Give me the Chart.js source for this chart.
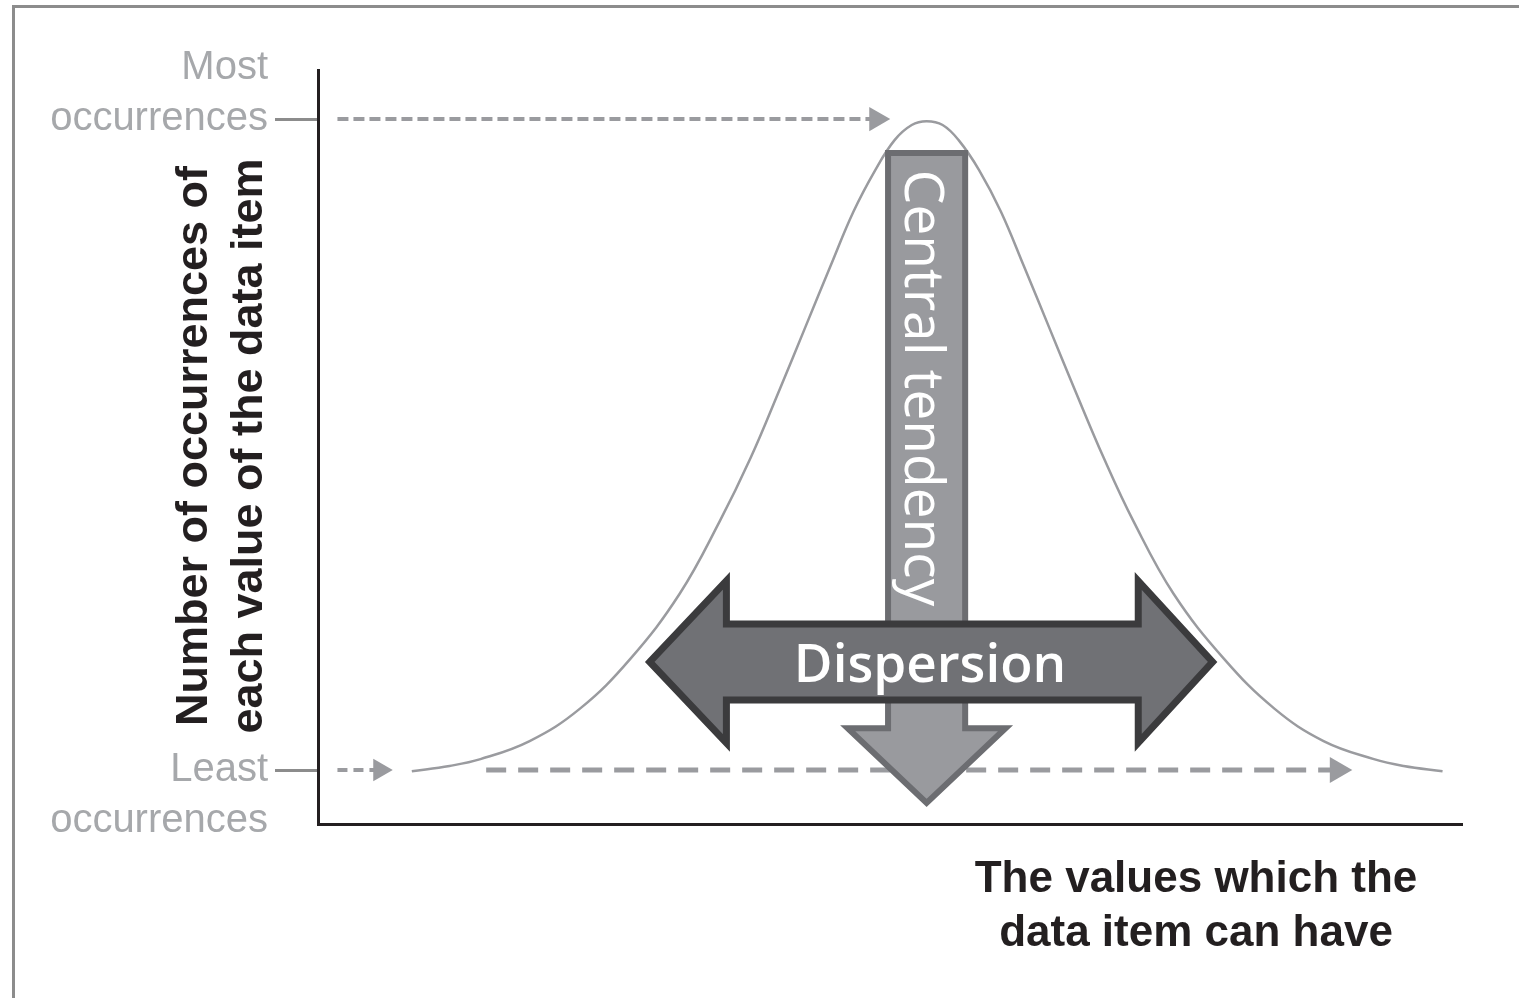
<!DOCTYPE html>
<html lang="en">
<head>
<meta charset="UTF-8">
<title>Central tendency and dispersion</title>
<script src="https://cdn.jsdelivr.net/npm/chart.js"></script>
<style>
  html, body { margin: 0; padding: 0; background: #fff; overflow: hidden; }
  #wrap { position: relative; width: 1519px; height: 998px; }
  #frame { position: absolute; left: 12px; top: 5px; width: 1600px; height: 1100px; border: 3px solid #8c8c8c; pointer-events: none; }
  .txt { position: absolute; white-space: nowrap; text-align: center; pointer-events: none; }
  #ytitle { left: -101px; top: 391px; width: 640px; height: 110px; font: bold 45px/55px 'Liberation Sans', Arial, sans-serif; color: #231f20; transform: rotate(-90deg); }
  #xtitle { left: 946px; top: 850px; width: 500px; font: bold 44px/54px 'Liberation Sans', Arial, sans-serif; color: #231f20; }
  #disp { left: 730px; top: 635px; width: 400px; font: 600 53px/53px 'Open Sans', sans-serif; color: #fff; }
  #central { left: 676px; top: 360px; width: 500px; height: 56px; font: 500 55px/56px 'Open Sans', sans-serif; color: #fff; transform: rotate(90deg); }
</style>
</head>
<body>
<div id="wrap">
  <canvas id="chart" width="1519" height="998"></canvas>
  <div id="frame"></div>
  <div class="txt" id="ytitle">Number of occurrences of<br>each value of the data item</div>
  <div class="txt" id="xtitle">The values which the<br>data item can have</div>
  <div class="txt" id="central">Central tendency</div>
  <div class="txt" id="disp">Dispersion</div>
</div>
<script>
// bell curve (x: value of the data item, y: occurrences)
const curveX = [8.2, 11.5, 14.2, 18.5, 22.9, 27.3, 31.6, 35.1, 37.8, 40.4, 42.6, 44.8, 46.8, 48.7, 50.4, 51.9, 53.2,
                54.6, 56.0, 57.8, 59.7, 61.7, 63.9, 66.1, 68.7, 71.3, 74.8, 79.2, 83.6, 87.9, 92.3, 94.9, 98.3];
const curveY = [7.0, 7.7, 8.6, 11.0, 15.3, 21.9, 30.5, 40.1, 48.5, 57.8, 65.9, 74.0, 81.2, 86.7, 90.7, 92.7, 93.2,
                92.7, 90.7, 86.7, 81.2, 74.0, 65.9, 57.8, 48.5, 40.1, 30.5, 21.9, 15.3, 11.0, 8.6, 7.7, 7.0];

// y axis ticks
const yTickValues = [7.16, 93.5];
const yTickLabels = ['Least occurrences', 'Most occurrences'];

// dashed pointer arrows (start, end of the line)
const mostArrowX = [1.7, 48.8];
const leastShortArrowX = [1.7, 5.4];
const leastLongArrowX = [14.7, 89.1];

// the two big arrows, in axis units
const centralArrow = { x: 53.2, shaftHalf: 3.37, headHalf: 6.9, top: 89.0, headTop: 12.7, tip: 2.8 };
const dispersionArrow = { y: 21.5, shaftHalf: 5.04, headHalf: 10.74, left: 29.0, leftBack: 35.7, rightBack: 71.7, right: 78.2 };

const grey = '#9a9b9f';

const pts = (xs, ys) => xs.map((v, i) => ({ x: v, y: Array.isArray(ys) ? ys[i] : ys }));

function dashedArrow(xs, yv, width, dash, head) {
    return {
        data: pts(xs, yv),
        borderColor: grey,
        borderWidth: width,
        borderDash: dash,
        pointRadius: [0, head],
        pointStyle: 'triangle',
        pointRotation: 90,
        pointBackgroundColor: grey,
        pointBorderWidth: 0
    };
}

const arrowsPlugin = {
    id: 'bigArrows',
    afterDatasetsDraw(chart) {
        const { ctx, scales } = chart;
        const X = v => scales.x.getPixelForValue(v);
        const Y = v => scales.y.getPixelForValue(v);
        ctx.save();
        ctx.lineJoin = 'miter';

        // central tendency, pointing down
        const c = centralArrow;
        ctx.beginPath();
        ctx.moveTo(X(c.x - c.shaftHalf), Y(c.top));
        ctx.lineTo(X(c.x + c.shaftHalf), Y(c.top));
        ctx.lineTo(X(c.x + c.shaftHalf), Y(c.headTop));
        ctx.lineTo(X(c.x + c.headHalf), Y(c.headTop));
        ctx.lineTo(X(c.x), Y(c.tip));
        ctx.lineTo(X(c.x - c.headHalf), Y(c.headTop));
        ctx.lineTo(X(c.x - c.shaftHalf), Y(c.headTop));
        ctx.closePath();
        ctx.fillStyle = '#999a9e';
        ctx.fill();
        ctx.lineWidth = 6;
        ctx.strokeStyle = '#6c6d71';
        ctx.stroke();

        // dispersion, double headed
        const d = dispersionArrow;
        ctx.beginPath();
        ctx.moveTo(X(d.left), Y(d.y));
        ctx.lineTo(X(d.leftBack), Y(d.y + d.headHalf));
        ctx.lineTo(X(d.leftBack), Y(d.y + d.shaftHalf));
        ctx.lineTo(X(d.rightBack), Y(d.y + d.shaftHalf));
        ctx.lineTo(X(d.rightBack), Y(d.y + d.headHalf));
        ctx.lineTo(X(d.right), Y(d.y));
        ctx.lineTo(X(d.rightBack), Y(d.y - d.headHalf));
        ctx.lineTo(X(d.rightBack), Y(d.y - d.shaftHalf));
        ctx.lineTo(X(d.leftBack), Y(d.y - d.shaftHalf));
        ctx.lineTo(X(d.leftBack), Y(d.y - d.headHalf));
        ctx.closePath();
        ctx.fillStyle = '#707175';
        ctx.fill();
        ctx.lineWidth = 7;
        ctx.strokeStyle = '#3b3b3d';
        ctx.stroke();
        ctx.restore();
    }
};

new Chart(document.getElementById('chart'), {
    type: 'line',
    data: {
        datasets: [
            {
                data: pts(curveX, curveY),
                borderColor: grey,
                borderWidth: 2.5,
                pointRadius: 0,
                tension: 0.4,
                fill: false
            },
            dashedArrow(mostArrowX, yTickValues[1], 4, [11, 5], 14),
            dashedArrow(leastShortArrowX, yTickValues[0], 4, [10, 6], 13),
            dashedArrow(leastLongArrowX, yTickValues[0], 5, [20, 12], 15)
        ]
    },
    options: {
        responsive: false,
        animation: false,
        events: [],
        devicePixelRatio: 1,
        layout: { padding: { left: 0, top: 70, right: 57, bottom: 0 } },
        plugins: { legend: { display: false }, tooltip: { enabled: false } },
        scales: {
            x: {
                type: 'linear',
                min: 0,
                max: 100,
                grid: { display: false },
                ticks: { display: false },
                border: { display: true, color: '#231f20', width: 3 },
                afterFit(scale) {
                    scale.height = 174;
                    scale.paddingLeft = 0;
                    scale.paddingRight = 0;
                }
            },
            y: {
                min: 0,
                max: 100,
                afterBuildTicks(scale) {
                    scale.ticks = yTickValues.map(v => ({ value: v }));
                },
                grid: { display: true, drawOnChartArea: false, drawTicks: true, tickLength: 43, color: '#8c8c8c', lineWidth: 3 },
                border: { display: true, color: '#231f20', width: 3 },
                ticks: {
                    padding: 7,
                    color: '#a6a8ab',
                    font: { family: "'Liberation Sans', Arial, sans-serif", size: 40, lineHeight: 1.275 },
                    callback(value, index) {
                        const words = yTickLabels[index].split(' ');
                        // the tick points at the line "occurrences" on top, "Least" at the bottom
                        return index === 1 ? [words[0], words[1], ''] : ['', words[0], words[1]];
                    }
                },
                afterFit(scale) {
                    scale.width = 318;
                    scale.paddingTop = 0;
                    scale.paddingBottom = 0;
                }
            }
        }
    },
    plugins: [arrowsPlugin]
});
</script>
</body>
</html>
